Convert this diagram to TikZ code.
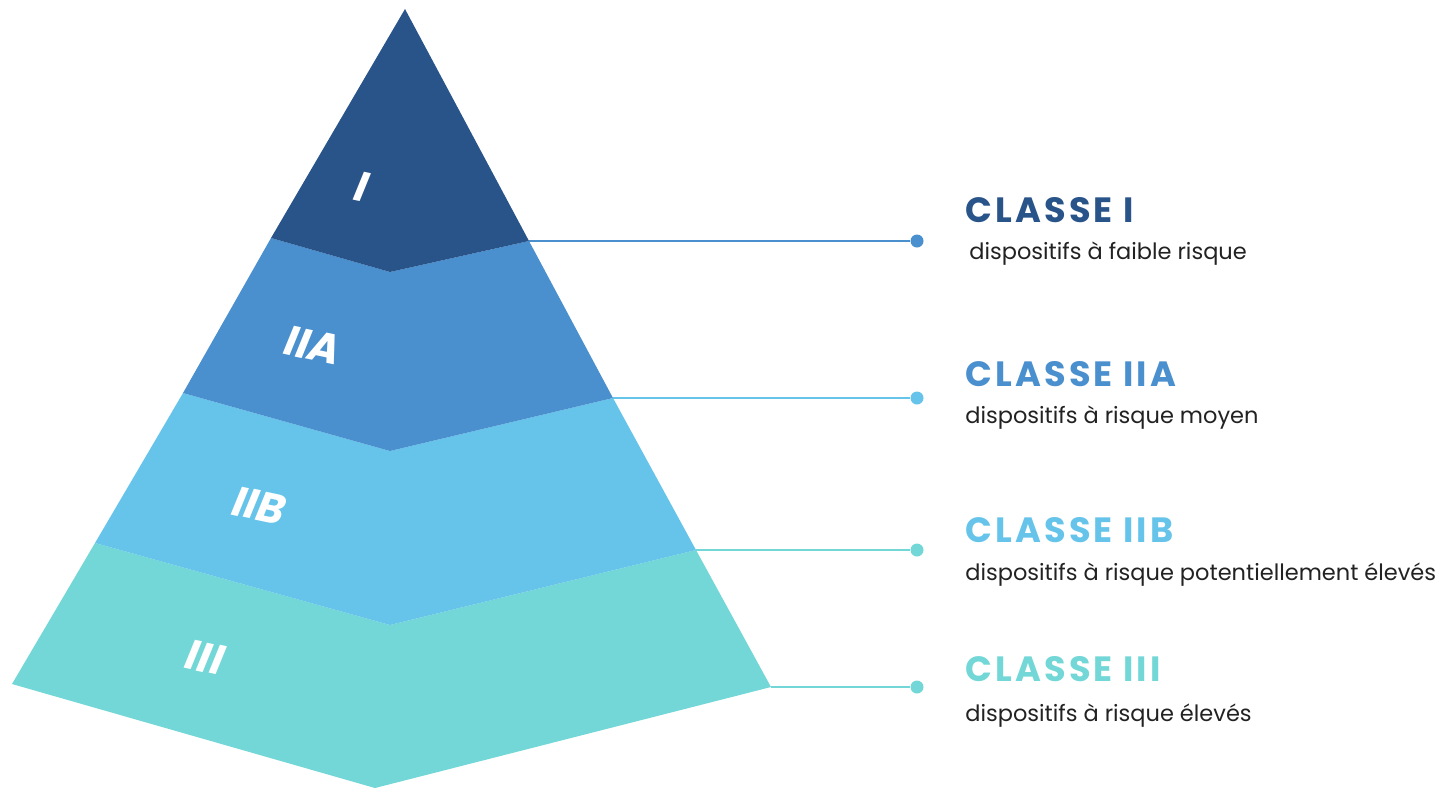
\documentclass[tikz,border=0pt]{standalone}
\usepackage{fontspec}
\setmainfont{Poppins}
\newfontfamily\tierfont[FakeSlant=0.18]{Poppins}
\newfontfamily\titlefont[LetterSpace=9]{Poppins}
\usepackage{tikz}
\usetikzlibrary{positioning, calc}
\definecolor{navyblue}{RGB}{40,84,138}
\definecolor{midblue}{RGB}{74,143,206}
\definecolor{skyblue}{RGB}{102,196,234}
\definecolor{tealblue}{RGB}{114,215,214}
\definecolor{desctext}{RGB}{34,34,34}

\tikzset{
    tierlabel/.style={text=white, font=\tierfont\bfseries\fontsize{24}{24}\selectfont, rotate=-12, inner sep=0pt},
    dot/.style={circle, fill=#1, minimum size=13*0.02cm, inner sep=0pt},
    leader/.style={draw=#1, line width=2*0.02cm},
    classtitle/.style={anchor=base west, inner sep=0pt, text=#1, font=\titlefont\bfseries\fontsize{20}{20}\selectfont},
    classdesc/.style={anchor=base west, inner sep=0pt, text=desctext, font=\fontsize{12.8}{12.8}\selectfont}
}

\begin{document}
\begin{tikzpicture}[x=0.02cm, y=-0.02cm]
    \useasboundingbox (0,0) rectangle (1443,789);

    % Pyramid corners
    \coordinate (apex) at (405,9);
    \coordinate (l1) at (271,238); \coordinate (m1) at (390,272); \coordinate (r1) at (529,241);
    \coordinate (l2) at (183,393); \coordinate (m2) at (390,451); \coordinate (r2) at (613,398);
    \coordinate (l3) at (95,543);  \coordinate (m3) at (390,625); \coordinate (r3) at (696,550);
    \coordinate (l4) at (12,684);  \coordinate (m4) at (375,788); \coordinate (r4) at (771,687);

    % Layers, bottom first so each one sits on the next
    \fill[tealblue] (l3) -- (m3) -- (r3) -- (r4) -- (m4) -- (l4) -- cycle;
    \fill[skyblue] (l2) -- (m2) -- (r2) -- (r3) -- (m3) -- (l3) -- cycle;
    \fill[midblue] (l1) -- (m1) -- (r1) -- (r2) -- (m2) -- (l2) -- cycle;
    \fill[navyblue] (apex) -- (r1) -- (m1) -- (l1) -- cycle;

    % Tier labels
    \node[tierlabel] (tI) at (360,186) {I};
    \node[tierlabel] (tIIA) at (311,345) {IIA};
    \node[tierlabel] (tIIB) at (257,505) {IIB};
    \node[tierlabel] (tIII) at (203,657) {III};

    % Leader lines with end dots
    \node[dot=midblue] (dot1) at (917,241) {};
    \node[dot=skyblue] (dot2) at (917,398) {};
    \node[dot=tealblue] (dot3) at (917,550) {};
    \node[dot=tealblue] (dot4) at (917,687) {};
    \draw[leader=midblue] (r1) -- (dot1);
    \draw[leader=skyblue] (r2) -- (dot2);
    \draw[leader=tealblue] (r3) -- (dot3);
    \draw[leader=tealblue] (r4) -- (dot4);

    % Class titles and descriptions
    \node[classtitle=navyblue] (c1) at (965,222) {CLASSE I};
    \node[classdesc] (d1) at (969,259) {dispositifs à faible risque};
    \node[classtitle=midblue] (c2) at (965,386) {CLASSE IIA};
    \node[classdesc] (d2) at (965,423) {dispositifs à risque moyen};
    \node[classtitle=skyblue] (c3) at (965,542) {CLASSE IIB};
    \node[classdesc] (d3) at (965,580) {dispositifs à risque potentiellement élevés};
    \node[classtitle=tealblue] (c4) at (965,681) {CLASSE III};
    \node[classdesc] (d4) at (965,721) {dispositifs à risque élevés};
\end{tikzpicture}
\end{document}
